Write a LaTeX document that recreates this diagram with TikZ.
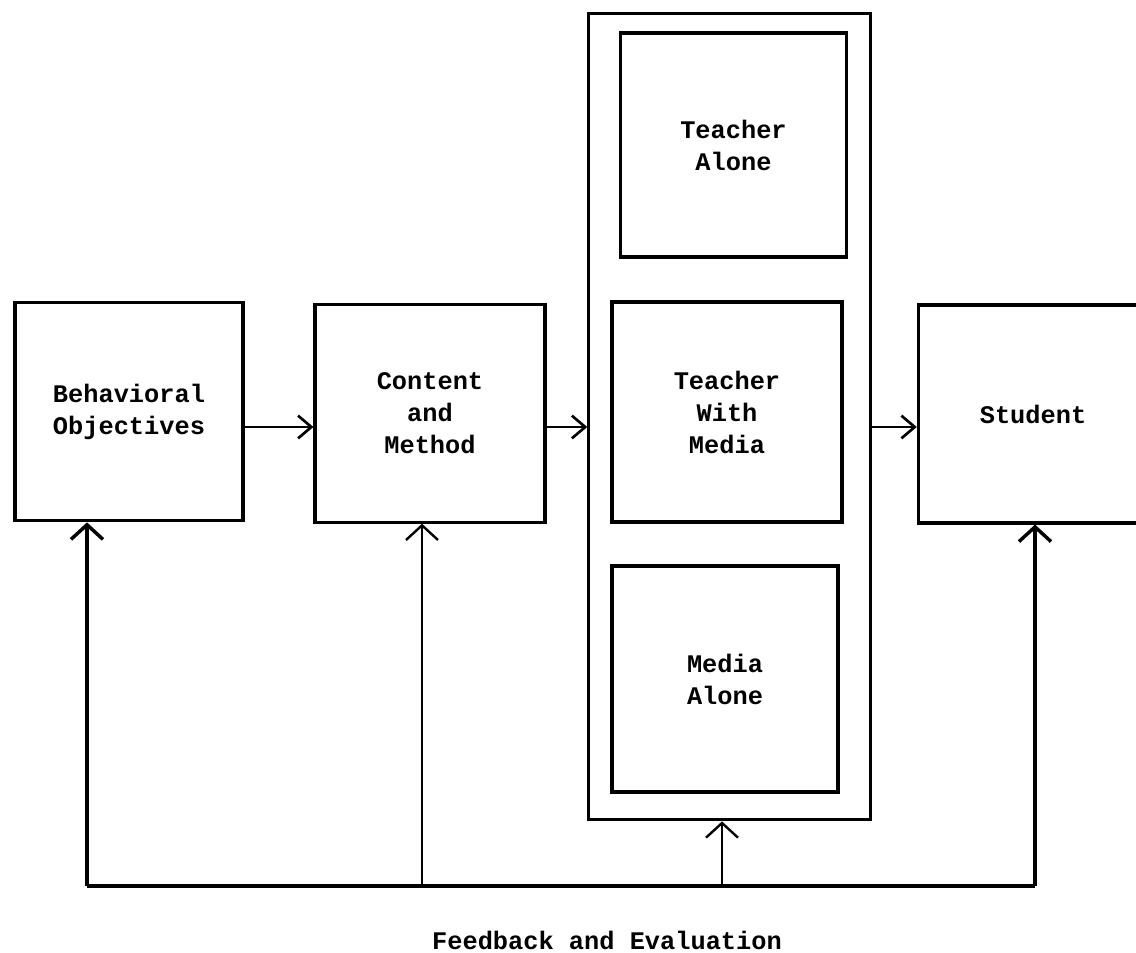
\documentclass[tikz,border=0pt]{standalone}
\usepackage{fontspec}
\setmonofont{Liberation Mono}
\usetikzlibrary{arrows.meta}

\tikzset{every picture/.style={line width=0.75pt}}
\tikzset{
  block/.style={draw, line width=2.3pt, inner sep=0pt, align=center,
    font=\ttfamily\bfseries\fontsize{19}{24}\selectfont},
  link/.style={line width=2pt, -{Straight Barb[length=10pt,width=17pt]}},
  uplink/.style={line width=2.6pt, -{Straight Barb[length=11pt,width=24pt]}},
  lbl/.style={inner sep=0.75pt, font=\ttfamily\bfseries\fontsize{19}{24}\selectfont}
}

\begin{document}
\begin{tikzpicture}[x=0.75pt,y=0.75pt,yscale=-1,xscale=1]
\useasboundingbox (0,0) rectangle (1136,953);

%Rect [id:objectives]
\node[block, minimum width=171pt, minimum height=164pt] (obj) at (129,411.5) {Behavioral\\Objectives};
%Rect [id:content]
\node[block, minimum width=172.5pt, minimum height=163pt] (cont) at (430,413.5) {Content\\and\\Method};
%Rect [id:frame]
\node[block, minimum width=211pt, minimum height=605pt] (frame) at (729.5,416.5) {};
%Rect [id:alone]
\node[block, minimum width=170pt, minimum height=168pt] (talone) at (733.5,145) {Teacher\\Alone};
%Rect [id:withmedia]
\node[block, minimum width=172.5pt, minimum height=165pt] (twith) at (727,412) {Teacher\\With\\Media};
%Rect [id:mediaalone]
\node[block, minimum width=169.5pt, minimum height=169.5pt] (malone) at (725,679) {Media\\Alone};
%Rect [id:student]
\node[block, minimum width=172pt, minimum height=163.5pt] (stud) at (1033,414) {Student};

%Coordinates for connectors
\coordinate (mid) at (0,427);
\coordinate (fa) at (87,886);
\coordinate (fb) at (422,886);
\coordinate (fc) at (722,886);
\coordinate (fd) at (1035,886);

%Straight Lines [forward]
\draw[link] (obj.east |- mid) -- (cont.west |- mid);
\draw[link] (cont.east |- mid) -- (frame.west |- mid);
\draw[link] (frame.east |- mid) -- (stud.west |- mid);

%Straight Lines [feedback]
\draw[line width=2.6pt] (fa) -- (fd);
\draw[uplink] (fa) -- (fa |- obj.south);
\draw[uplink, line width=1.8pt] (fb) -- (fb |- cont.south);
\draw[uplink, line width=1.8pt] (fc) -- (fc |- frame.south);
\draw[uplink] (fd) -- (fd |- stud.south);

% Text Node
\node[lbl] (fbtext) at (607,940) {Feedback and Evaluation};

\end{tikzpicture}
\end{document}
